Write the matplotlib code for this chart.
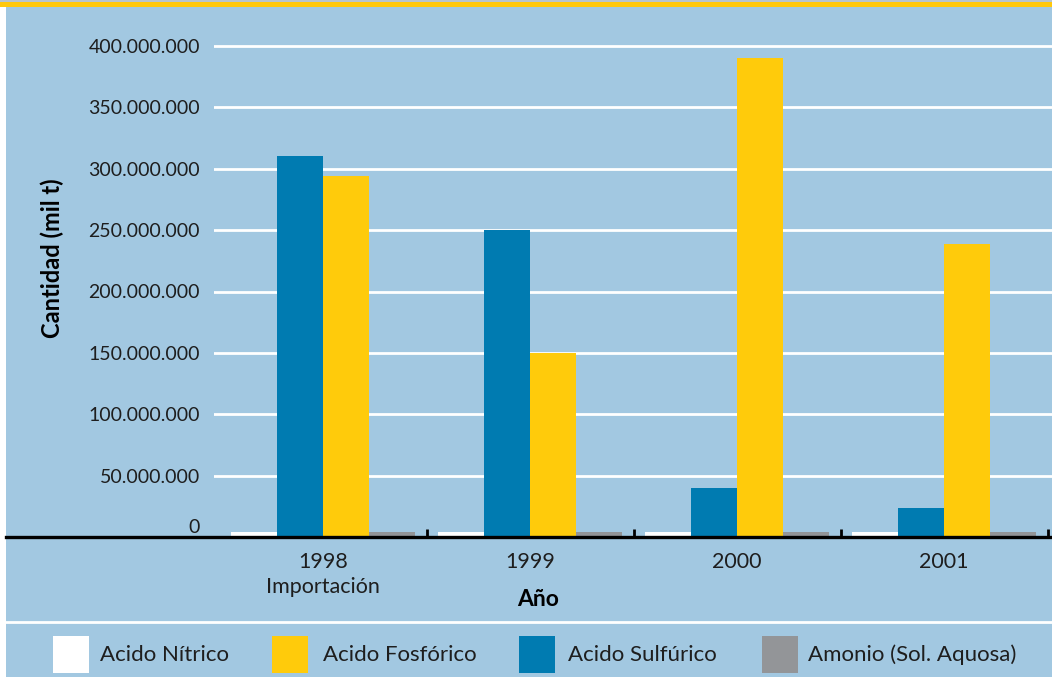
import matplotlib
matplotlib.use("Agg")
from matplotlib import pyplot as plt
from matplotlib.patches import Rectangle
from matplotlib.lines import Line2D
import matplotlib.transforms as mtransforms
import numpy as np

years = ['1998\nImportación', '1999', '2000', '2001']
series = ['Acido Nítrico', 'Acido Fosfórico', 'Acido Sulfúrico', 'Amonio (Sol. Aquosa)']
nitrico = [4000000, 4000000, 4000000, 4000000]
fosforico = [294000000, 150000000, 390000000, 239000000]
sulfurico = [310000000, 250000000, 40000000, 24000000]
amonio = [4000000, 4000000, 4000000, 4000000]
yticks = [50000000, 100000000, 150000000, 200000000, 250000000, 300000000, 350000000, 400000000]

bg = '#A2C8E1'
col = {'Acido Nítrico': '#FFFFFF', 'Acido Fosfórico': '#FFCB0B',
       'Acido Sulfúrico': '#007BB1', 'Amonio (Sol. Aquosa)': '#939598'}
txt = '#1e1e1e'
plt.rcParams['font.family'] = ['Lato', 'DejaVu Sans']

W, H = 1052, 677
fig = plt.figure(figsize=(W / 100, H / 100), dpi=100)
fig.patch.set_facecolor(bg)

def fx(px):
    return px / W

def fy(py):
    return 1 - py / H

# axes: y=0 at py 537, 400M at py 46 (61.4 px per 50M)
ppm = (537 - 46) / 400e6
ytop = 410e6
ax = fig.add_axes([fx(214), fy(537), 1 - fx(214), ytop * ppm / H])
ax.patch.set_alpha(0)
for s in ax.spines.values():
    s.set_visible(False)

x = np.arange(len(years))
w = 46 / 207
vals = [nitrico, sulfurico, fosforico, amonio]
order = ['Acido Nítrico', 'Acido Sulfúrico', 'Acido Fosfórico', 'Amonio (Sol. Aquosa)']
for i, (name, v) in enumerate(zip(order, vals)):
    ax.bar(x + (i - 1.5) * w, v, w, color=col[name], zorder=3, linewidth=0)

ax.set_xlim((214 - 323) / 207, (1052 - 323) / 207)
ax.set_ylim(0, ytop)
ax.set_yticks([0] + yticks)
ax.set_yticklabels(['0'] + ['{:,}'.format(t).replace(',', '.') for t in yticks],
                   fontsize=14, color=txt)
ax.tick_params(axis='y', length=0, pad=10)
# the "0" label sits a little above the baseline
lab0 = ax.get_yticklabels()[0]
lab0.set_transform(lab0.get_transform() + mtransforms.ScaledTranslation(0, 11 / 100, fig.dpi_scale_trans))
for t in yticks:
    ax.axhline(t, color='white', lw=2, zorder=1)

ax.set_xticks(x + 0.5)
ax.set_xticklabels([])
ax.tick_params(axis='x', which='major', direction='in', length=6, width=2, color='black')
ax.set_xticks(x, minor=True)
ax.set_xticklabels(years, minor=True, fontsize=15.5, color=txt, linespacing=1.3)
ax.tick_params(axis='x', which='minor', length=0, pad=11)

# baseline
fig.add_artist(Line2D([fx(6), 1], [fy(537), fy(537)], color='black', lw=2.4, zorder=5))

fig.text(fx(52), fy(258), 'Cantidad (mil t)', rotation=90, fontsize=17, fontweight='bold',
         ha='center', va='center', color='black')
fig.text(fx(538), fy(599), 'Año', fontsize=16.5, fontweight='bold', ha='center', va='center',
         color='black')

# legend separator
fig.add_artist(Line2D([fx(6), 1], [fy(622), fy(622)], color='white', lw=2))

leg_x = [53, 272, 519, 762]
leg_tx = [100, 323, 568, 808]
for name, lx, tx in zip(series, leg_x, leg_tx):
    fig.add_artist(Rectangle((fx(lx), fy(673)), 36 / W, 37 / H, transform=fig.transFigure,
                             facecolor=col[name], edgecolor='none'))
    fig.text(fx(tx), fy(655), name, fontsize=16, ha='left', va='center', color=txt)

# frame decorations
fig.add_artist(Rectangle((0, 0), 6 / W, 1, transform=fig.transFigure, facecolor='white',
                         edgecolor='none'))
fig.add_artist(Rectangle((0, fy(2)), 1, 2 / H, transform=fig.transFigure, facecolor='#B8C4CC',
                         edgecolor='none'))
fig.add_artist(Rectangle((0, fy(7)), 1, 5 / H, transform=fig.transFigure, facecolor='#FFC80B',
                         edgecolor='none'))

plt.savefig('out.png', dpi=100, facecolor=bg)
